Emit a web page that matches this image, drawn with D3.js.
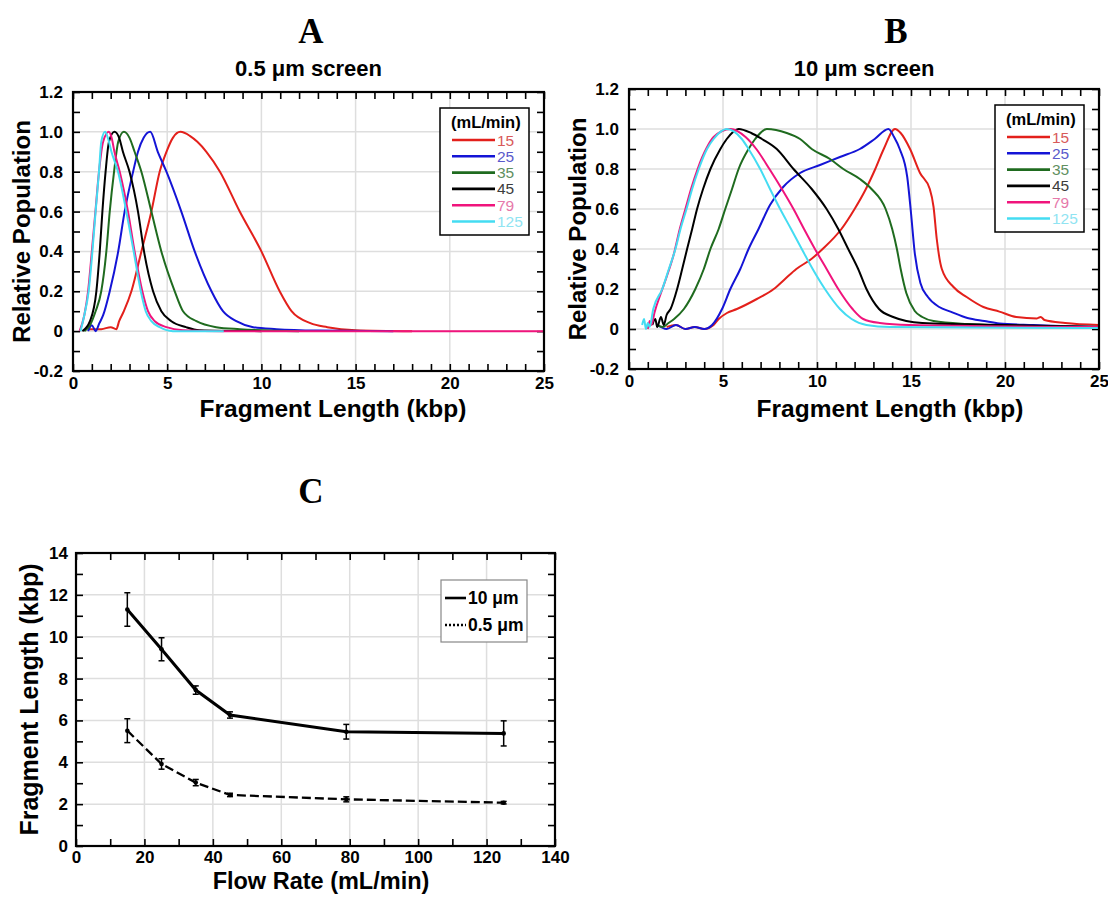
<!DOCTYPE html>
<html>
<head>
<meta charset="utf-8">
<script src="https://cdn.jsdelivr.net/npm/d3@7"></script>
<style>
body{margin:0;background:#fff}
text{font-family:"Liberation Sans",Arial,sans-serif}
</style>
</head>
<body>
<script>
// legend / series order
var flowRates = ["15", "25", "35", "45", "79", "125"];
var lineColors = ["#e3201b", "#1414d6", "#1f6b1f", "#000000", "#f0147c", "#44dcf2"];
var labelColors = ["#d85a5a", "#5a5acb", "#5f8f5f", "#3c3c3c", "#e678aa", "#90e4f2"];

// panel A, 0.5 um screen : [kbp, relative population]
var half15 = [[0.8,0.01],[1.5,0.01],[2.0,0.02],[2.3,0.01],[2.45,0.05],[2.7,0.1],[3.1,0.2],[3.63,0.4],[4.16,0.6],[4.6,0.8],[4.96,0.9],[5.3,0.97],[5.7,1.0],[6.2,0.98],[6.6,0.95],[7.08,0.9],[7.8,0.8],[8.85,0.6],[10.0,0.4],[10.97,0.2],[11.6,0.1],[12.6,0.04],[13.5,0.02],[15,0.005],[18,0]];
var half25 = [[0.8,0.0],[1.0,0.03],[1.2,0.0],[1.4,0.04],[1.6,0.08],[1.95,0.2],[2.4,0.4],[2.74,0.6],[3.19,0.8],[3.45,0.9],[3.75,0.97],[4.1,1.0],[4.5,0.9],[4.96,0.8],[5.75,0.6],[6.46,0.4],[7.35,0.2],[7.96,0.1],[8.67,0.05],[9.56,0.02],[10.8,0.01],[13,0.003],[17,0]];
var half35 = [[0.6,0],[0.9,0.03],[1.2,0.1],[1.5,0.2],[1.77,0.4],[1.95,0.6],[2.18,0.8],[2.4,0.95],[2.7,1.0],[3.0,0.97],[3.27,0.9],[3.63,0.8],[4.16,0.6],[4.69,0.4],[5.4,0.2],[5.84,0.1],[6.55,0.05],[7.6,0.02],[8.85,0.01],[12,0]];
var half45 = [[0.5,0],[0.9,0.05],[1.24,0.2],[1.42,0.4],[1.56,0.6],[1.73,0.8],[1.91,0.95],[2.2,1.0],[2.45,0.97],[2.65,0.9],[3.0,0.8],[3.45,0.6],[3.77,0.4],[4.25,0.2],[4.69,0.1],[5.22,0.05],[6.0,0.02],[6.7,0.005],[10,0]];
var half79 = [[0.35,0],[0.6,0.08],[0.8,0.2],[1.0,0.4],[1.19,0.6],[1.38,0.8],[1.6,0.95],[1.9,1.0],[2.05,0.97],[2.2,0.9],[2.48,0.8],[2.92,0.6],[3.27,0.4],[3.68,0.2],[3.98,0.1],[4.34,0.05],[4.96,0.02],[5.84,0.005],[8,0],[25,0]];
var half125 = [[0.4,0],[0.6,0.08],[0.83,0.2],[1.03,0.4],[1.2,0.6],[1.38,0.8],[1.5,0.95],[1.7,1.0],[1.85,0.97],[2.04,0.9],[2.39,0.8],[2.83,0.6],[3.22,0.4],[3.6,0.2],[3.86,0.1],[4.16,0.05],[4.6,0.02],[5.3,0],[8,0]];

// panel B, 10 um screen
var ten15 = [[2.0,0.01],[2.5,0.02],[3.0,0.0],[3.5,0.01],[4.0,0.0],[4.5,0.02],[4.77,0.05],[5.21,0.08],[5.74,0.1],[6.8,0.15],[7.7,0.2],[8.3,0.25],[8.9,0.3],[9.7,0.35],[10.3,0.4],[11.3,0.5],[12.0,0.6],[12.6,0.7],[13.1,0.8],[13.55,0.9],[14.15,1.0],[14.45,0.98],[14.95,0.9],[15.48,0.78],[16.0,0.7],[16.2,0.61],[16.37,0.45],[16.64,0.3],[17.26,0.21],[17.96,0.16],[18.85,0.11],[19.7,0.087],[20.6,0.06],[21.7,0.053],[21.9,0.06],[22.1,0.045],[23.2,0.03],[25,0.02]];
var ten25 = [[1.5,0.02],[2.0,0.0],[2.5,0.02],[3.0,0.0],[3.5,0.01],[4.0,0.0],[4.42,0.02],[4.95,0.1],[5.39,0.2],[5.92,0.3],[6.36,0.4],[6.89,0.5],[7.5,0.62],[8.2,0.71],[9.1,0.78],[10.16,0.82],[11.22,0.86],[12.28,0.9],[13.07,0.95],[13.8,1.0],[14.1,0.96],[14.4,0.9],[14.8,0.76],[15.0,0.58],[15.2,0.38],[15.5,0.23],[15.9,0.16],[16.5,0.11],[17.1,0.087],[18.0,0.055],[18.9,0.04],[19.7,0.028],[21.5,0.02],[25,0.01]];
var ten35 = [[1.5,0.02],[1.8,0.01],[2.1,0.03],[2.4,0.05],[2.92,0.1],[3.53,0.2],[3.98,0.3],[4.33,0.4],[4.77,0.5],[5.12,0.6],[5.48,0.7],[5.83,0.8],[6.36,0.9],[6.71,0.95],[7.33,1.0],[8.39,0.98],[9.1,0.95],[9.72,0.9],[10.69,0.85],[11.4,0.8],[12.28,0.75],[12.9,0.7],[13.65,0.6],[14.0,0.5],[14.25,0.4],[14.45,0.3],[14.75,0.18],[15.2,0.09],[15.6,0.06],[16.2,0.04],[18,0.025],[21.5,0.015],[25,0.01]];
var ten45 = [[1.24,0.02],[1.4,0.05],[1.5,0.01],[1.7,0.06],[1.85,0.02],[2.0,0.07],[2.21,0.1],[2.56,0.2],[2.83,0.3],[3.09,0.4],[3.36,0.5],[3.62,0.6],[3.94,0.7],[4.33,0.8],[4.86,0.9],[5.2,0.95],[5.83,1.0],[6.5,0.98],[7.07,0.95],[7.86,0.9],[8.75,0.8],[9.72,0.7],[10.51,0.6],[11.13,0.5],[11.66,0.4],[12.19,0.3],[12.63,0.2],[13.3,0.1],[14.05,0.06],[14.75,0.04],[15.6,0.03],[20,0.02],[25,0.01]];
var ten79 = [[1.0,0.0],[1.1,0.04],[1.2,0.02],[1.35,0.08],[1.7,0.18],[2.0,0.26],[2.4,0.38],[2.7,0.5],[3.0,0.6],[3.3,0.7],[3.65,0.8],[3.9,0.86],[4.1,0.9],[4.5,0.96],[5.4,1.0],[6.2,0.96],[6.77,0.9],[7.47,0.8],[8.13,0.7],[8.75,0.6],[9.31,0.5],[9.89,0.4],[10.51,0.3],[11.13,0.2],[11.89,0.1],[12.46,0.05],[13.34,0.03],[14.9,0.02],[25,0.01]];
var ten125 = [[0.7,0.02],[0.8,0.05],[0.9,0.0],[1.0,0.03],[1.1,0.01],[1.29,0.1],[1.77,0.2],[2.12,0.3],[2.47,0.4],[2.74,0.5],[3.06,0.6],[3.36,0.7],[3.71,0.8],[4.15,0.9],[4.5,0.95],[5.2,1.0],[6.0,0.95],[6.36,0.9],[6.98,0.8],[7.5,0.7],[8.04,0.6],[8.62,0.5],[9.19,0.4],[9.77,0.3],[10.42,0.2],[11.22,0.1],[11.84,0.05],[12.63,0.02],[13.87,0.01],[25,0.005]];

var halfMicron = [half15, half25, half35, half45, half79, half125];
var tenMicron = [ten15, ten25, ten35, ten45, ten79, ten125];

// panel C
var flowRateC = [15, 25, 35, 45, 79, 125];
var len10 = [11.3, 9.4, 7.45, 6.26, 5.46, 5.38];
var err10 = [0.8, 0.55, 0.2, 0.15, 0.35, 0.6];
var len05 = [5.51, 3.92, 3.03, 2.44, 2.23, 2.07];
var err05 = [0.57, 0.25, 0.15, 0.08, 0.12, 0.06];

var svg = d3.select("body").append("svg").attr("width", 1108).attr("height", 897);

function fmtTenth(d) {
	var k = Math.round(d * 10);
	if (k % 2 !== 0) return "";
	return k === 0 ? "0" : d.toFixed(1);
}

// frame with grid, inward ticks on all sides and labels
function drawFrame(x, y, o) {
	var g = svg.append("g");
	var x0 = x.range()[0], x1 = x.range()[1], y0 = y.range()[0], y1 = y.range()[1];
	g.append("g").selectAll("line").data(o.xGrid).join("line")
		.attr("x1", d => x(d)).attr("x2", d => x(d)).attr("y1", y0).attr("y2", y1)
		.attr("stroke", "#dedede").attr("stroke-width", 1.5);
	g.append("g").selectAll("line").data(o.yGrid).join("line")
		.attr("y1", d => y(d)).attr("y2", d => y(d)).attr("x1", x0).attr("x2", x1)
		.attr("stroke", "#dedede").attr("stroke-width", 1.5);

	var axes = [
		g.append("g").attr("transform", "translate(0," + y0 + ")")
			.call(d3.axisBottom(x).tickValues(o.xTicks).tickSize(-7).tickPadding(o.xPad).tickFormat(o.xFmt)),
		g.append("g").attr("transform", "translate(0," + y1 + ")")
			.call(d3.axisTop(x).tickValues(o.xTicks).tickSize(-7).tickFormat("")),
		g.append("g").attr("transform", "translate(" + x0 + ",0)")
			.call(d3.axisLeft(y).tickValues(o.yTicks).tickSize(-7).tickPadding(o.yPad).tickFormat(o.yFmt)),
		g.append("g").attr("transform", "translate(" + x1 + ",0)")
			.call(d3.axisRight(y).tickValues(o.yTicks).tickSize(-7).tickFormat(""))
	];
	axes.forEach(function(a) {
		a.select(".domain").remove();
		a.attr("font-family", null).attr("font-size", null);
		a.selectAll(".tick line").attr("stroke", "#000").attr("stroke-width", 1.6);
		a.selectAll(".tick text").attr("fill", "#000").style("font-size", "17px").style("font-weight", "bold");
	});
	return g;
}

function drawRect(x, y) {
	svg.append("rect")
		.attr("x", x.range()[0]).attr("y", y.range()[1])
		.attr("width", x.range()[1] - x.range()[0]).attr("height", y.range()[0] - y.range()[1])
		.attr("fill", "none").attr("stroke", "#000").attr("stroke-width", 2.2);
}

function bold(t, px, y, size, rot) {
	var el = svg.append("text").text(t).attr("x", px).attr("y", y)
		.attr("text-anchor", "middle").style("font-size", size + "px").style("font-weight", "bold");
	if (rot) el.attr("x", 0).attr("y", 0).attr("transform", "translate(" + px + "," + y + ") rotate(-90)");
	return el;
}

function panelLetter(t, cx, base) {
	svg.append("text").text(t).attr("x", cx).attr("y", base).attr("text-anchor", "middle")
		.style("font-family", "'Liberation Serif','Times New Roman',serif")
		.style("font-size", "35px").style("font-weight", "bold");
}

function distributionPanel(series, box, subtitle, letter, letterX, titleX) {
	var x = d3.scaleLinear().domain([0, 25]).range([box.l, box.r]);
	var y = d3.scaleLinear().domain([-0.2, 1.2]).range([box.b, box.t]);
	drawFrame(x, y, {
		xGrid: [5, 10, 15, 20], yGrid: [0, 0.2, 0.4, 0.6, 0.8, 1.0],
		xTicks: d3.range(0, 26), yTicks: d3.range(-2, 13).map(d => d / 10),
		xFmt: d => (d % 5 === 0 ? String(d) : ""), yFmt: fmtTenth, xPad: 6, yPad: 10
	});
	var line = d3.line().x(d => x(d[0])).y(d => y(d[1])).curve(d3.curveMonotoneX);
	svg.append("g").selectAll("path").data(series).join("path")
		.attr("d", line).attr("fill", "none")
		.attr("stroke", (d, i) => lineColors[i]).attr("stroke-width", 2);
	drawRect(x, y);

	// legend
	var lx = box.r - 104, ly = box.t + 16;
	var lg = svg.append("g").attr("transform", "translate(" + lx + "," + ly + ")");
	lg.append("rect").attr("width", 89).attr("height", 127).attr("fill", "#fff")
		.attr("stroke", "#000").attr("stroke-width", 1.5);
	lg.append("text").text("(mL/min)").attr("x", 11).attr("y", 20)
		.style("font-size", "16.5px").style("font-weight", "bold");
	var rows = lg.selectAll("g.row").data(flowRates).join("g").attr("class", "row")
		.attr("transform", (d, i) => "translate(0," + (32 + i * 16.3) + ")");
	rows.append("line").attr("x1", 12).attr("x2", 55)
		.attr("stroke", (d, i) => lineColors[i]).attr("stroke-width", 2.6);
	rows.append("text").text(d => d).attr("x", 57).attr("y", 5.5)
		.attr("fill", (d, i) => labelColors[i]).style("font-size", "15.5px");

	bold(subtitle, (box.l + box.r) / 2, 76, 22);
	bold("Fragment Length (kbp)", titleX, 417, 24.5);
	bold("Relative Population", box.l - 43, (box.t + box.b) / 2, 24, true);
	panelLetter(letter, letterX, 43);
}

distributionPanel(halfMicron, {l: 73, r: 544, t: 92, b: 371}, "0.5 \u03bcm screen", "A", 311, 333);
distributionPanel(tenMicron, {l: 629, r: 1099, t: 89, b: 369}, "10 \u03bcm screen", "B", 896, 890);

// panel C
(function() {
	var x = d3.scaleLinear().domain([0, 140]).range([76, 555]);
	var y = d3.scaleLinear().domain([0, 14]).range([846, 553]);
	drawFrame(x, y, {
		xGrid: [20, 40, 60, 80, 100, 120], yGrid: [2, 4, 6, 8, 10, 12],
		xTicks: d3.range(0, 141, 10), yTicks: d3.range(0, 15),
		xFmt: d => (d % 20 === 0 ? String(d) : ""), yFmt: d => (d % 2 === 0 ? String(d) : ""),
		xPad: 5, yPad: 8
	});
	var sets = [
		{v: len10, e: err10, dash: null, w: 3},
		{v: len05, e: err05, dash: "9,4", w: 2.3}
	];
	sets.forEach(function(s) {
		var pts = flowRateC.map((f, i) => [f, s.v[i], s.e[i]]);
		svg.append("path").datum(pts)
			.attr("d", d3.line().x(d => x(d[0])).y(d => y(d[1])))
			.attr("fill", "none").attr("stroke", "#000").attr("stroke-width", s.w)
			.attr("stroke-dasharray", s.dash);
		var eg = svg.append("g").selectAll("g").data(pts).join("g");
		eg.append("line").attr("x1", d => x(d[0])).attr("x2", d => x(d[0]))
			.attr("y1", d => y(d[1] - d[2])).attr("y2", d => y(d[1] + d[2]))
			.attr("stroke", "#000").attr("stroke-width", 1.5);
		[-1, 1].forEach(function(sg) {
			eg.append("line").attr("x1", d => x(d[0]) - 3).attr("x2", d => x(d[0]) + 3)
				.attr("y1", d => y(d[1] + sg * d[2])).attr("y2", d => y(d[1] + sg * d[2]))
				.attr("stroke", "#000").attr("stroke-width", 1.5);
		});
		eg.append("circle").attr("cx", d => x(d[0])).attr("cy", d => y(d[1])).attr("r", 2.3).attr("fill", "#000");
	});
	drawRect(x, y);

	var lg = svg.append("g").attr("transform", "translate(441,580)");
	lg.append("rect").attr("width", 86).attr("height", 62).attr("fill", "#fff")
		.attr("stroke", "#888").attr("stroke-width", 1.2);
	lg.append("line").attr("x1", 4).attr("x2", 25).attr("y1", 18).attr("y2", 18)
		.attr("stroke", "#000").attr("stroke-width", 2.6);
	lg.append("line").attr("x1", 4).attr("x2", 25).attr("y1", 45).attr("y2", 45)
		.attr("stroke", "#000").attr("stroke-width", 2.4).attr("stroke-dasharray", "2,2");
	lg.append("text").text("10 \u03bcm").attr("x", 27).attr("y", 24).style("font-size", "17.5px").style("font-weight", "bold");
	lg.append("text").text("0.5 \u03bcm").attr("x", 27).attr("y", 51).style("font-size", "17.5px").style("font-weight", "bold");

	bold("Flow Rate (mL/min)", 321, 889, 23.5);
	bold("Fragment Length (kbp)", 38, (553 + 846) / 2, 25, true);
	panelLetter("C", 311, 503);
})();
</script>
</body>
</html>
